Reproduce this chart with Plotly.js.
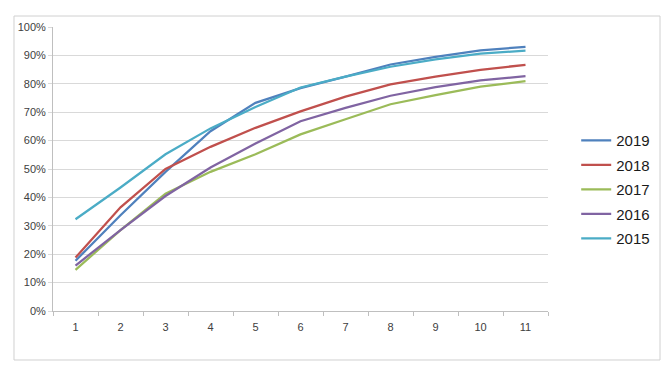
<!DOCTYPE html>
<html>
<head>
<meta charset="utf-8">
<script src="https://cdn.plot.ly/plotly-3.0.1.min.js"></script>
<style>html,body{margin:0;padding:0;background:#fff;}#chart{width:670px;height:377px;}</style>
</head>
<body>
<div id="chart"></div>
<script>
const categories = ['1','2','3','4','5','6','7','8','9','10','11'];
const seriesNames = ['2019','2018','2017','2016','2015'];
const v2019 = [0.177, 0.337, 0.490, 0.633, 0.733, 0.785, 0.825, 0.868, 0.895, 0.918, 0.930];
const v2018 = [0.188, 0.365, 0.500, 0.578, 0.645, 0.703, 0.755, 0.798, 0.825, 0.849, 0.867];
const v2017 = [0.145, 0.285, 0.413, 0.490, 0.552, 0.622, 0.675, 0.728, 0.760, 0.790, 0.809];
const v2016 = [0.160, 0.285, 0.405, 0.505, 0.590, 0.668, 0.715, 0.758, 0.788, 0.812, 0.827];
const v2015 = [0.323, 0.435, 0.552, 0.643, 0.718, 0.787, 0.825, 0.860, 0.886, 0.906, 0.917];
const seriesValues = [v2019, v2018, v2017, v2016, v2015];
const colors = ['#4F81BD', '#C0504D', '#9BBB59', '#8064A2', '#4BACC6'];

const traces = seriesNames.map((name, i) => ({
  x: categories,
  y: seriesValues[i],
  name: name,
  legendgroup: name,
  type: 'scatter',
  mode: 'lines',
  line: {color: colors[i], width: 2.25}
}));

const layout = {
  width: 670, height: 377,
  margin: {l: 53, r: 122, t: 27, b: 66, autoexpand: false},
  paper_bgcolor: '#ffffff',
  plot_bgcolor: '#ffffff',
  font: {family: 'Liberation Sans, Arial, sans-serif', size: 11, color: '#404040'},
  showlegend: true,
  legend: {
    xref: 'container', yref: 'container',
    x: 0.86, xanchor: 'left', y: 0.497, yanchor: 'middle',
    font: {size: 15, color: '#1a1a1a', family: 'Liberation Sans, Arial, sans-serif'},
    itemwidth: 30, traceorder: 'grouped', tracegroupgap: 2, bgcolor: 'rgba(0,0,0,0)'
  },
  xaxis: {
    type: 'category',
    range: [-0.5, 10.5],
    tickson: 'boundaries',
    ticks: 'outside', ticklen: 4, tickcolor: '#bfbfbf',
    ticklabelstandoff: 6,
    showgrid: false,
    showline: true, linecolor: '#bfbfbf', linewidth: 1,
    zeroline: false,
    tickfont: {size: 11, color: '#404040'},
    fixedrange: true
  },
  yaxis: {
    range: [0, 1],
    dtick: 0.1,
    tickformat: '.0%',
    ticks: 'outside', ticklen: 4, tickcolor: '#d9d9d9',
    showgrid: true, gridcolor: '#d9d9d9', gridwidth: 1,
    showline: true, linecolor: '#bfbfbf', linewidth: 1,
    zeroline: false,
    tickfont: {size: 11, color: '#404040'},
    fixedrange: true
  },
  shapes: [{
    type: 'rect', xref: 'paper', yref: 'paper',
    x0: -0.0788, x1: 1.2263, y0: -0.1725, y1: 1.0387,
    line: {color: '#d0d0d0', width: 1}, layer: 'below'
  }]
};

Plotly.newPlot('chart', traces, layout, {staticPlot: true, displayModeBar: false});
</script>
</body>
</html>
